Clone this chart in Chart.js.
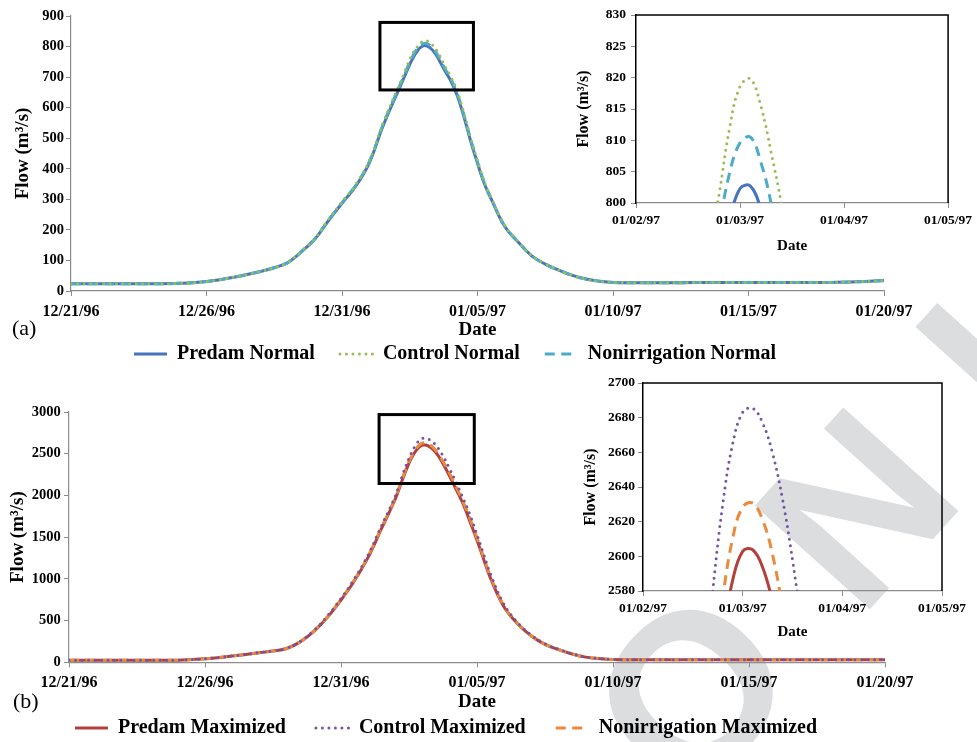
<!DOCTYPE html>
<html>
<head>
<meta charset="utf-8">
<title>Flow hydrographs</title>
<script src="https://cdn.jsdelivr.net/npm/chart.js@4.4.1/dist/chart.umd.min.js"></script>
<style>
  html, body { margin: 0; padding: 0; background: #fff; }
  #page { position: relative; width: 977px; height: 742px; overflow: hidden; font-family: 'Liberation Serif', 'Times New Roman', serif; }
  #page canvas { position: absolute; }
  .panel-tag { position: absolute; font-size: 22px; line-height: 1; color: #000; }
  #stamp {
    position: absolute; left: 602px; top: 580px;
    font: bold 225px/1 'Liberation Sans', Arial, sans-serif;
    letter-spacing: 78px;
    color: #dcdddf; white-space: nowrap;
    transform-origin: 87.5px 110px; transform: rotate(-48deg);
  }
</style>
</head>
<body>
<div id="page">
  <div id="stamp">ONL</div>
  <canvas id="mainA" width="977" height="400" style="left:0;top:0"></canvas>
  <canvas id="insetA" width="417" height="262" style="left:560px;top:0"></canvas>
  <canvas id="mainB" width="977" height="404" style="left:0;top:372px"></canvas>
  <canvas id="insetB" width="417" height="282" style="left:560px;top:370px"></canvas>
  <div class="panel-tag" style="left:12px;top:317px">(a)</div>
  <div class="panel-tag" style="left:13px;top:690px">(b)</div>
</div>
<script>
// days after 12/21/96 00:00
const flowDays = [0, 1, 2, 3, 4, 5, 6, 7,
  7.5, 8, 8.5, 9, 9.5, 10, 10.5, 11, 11.5, 12,
  12.25,
  12.5, 12.6, 12.7, 12.8, 12.9, 13, 13.1, 13.2, 13.3, 13.4, 13.5, 13.6,
  13.8, 14, 14.25, 14.5, 14.75, 15, 15.25, 15.5,
  16, 16.5, 17, 17.5, 18, 18.5, 19, 19.5, 20,
  21, 22, 23, 24, 25, 26, 27, 28, 29, 30];

// (a) normal year, m3/s
const predamNormal = [24, 24, 23.5, 23.5, 25, 31, 45, 64,
  76, 93, 128, 170, 230, 287, 342, 418, 537, 640,
  690,
  742, 759, 775, 788, 797.3, 802.3, 802.7, 799, 792, 782, 769, 753,
  720, 690, 640, 570, 490, 418, 352, 302,
  212, 160, 115, 88, 68, 51, 39, 32, 28,
  27, 27, 27.5, 28, 28, 27.5, 27.5, 28, 30, 34];
const controlNormal = [24, 24, 23.5, 23.5, 25, 31, 45, 64,
  76, 94, 130, 173, 234, 292, 348, 425, 546, 652,
  703,
  758, 776, 792, 801.5, 812, 818.6, 819.8, 815.5, 808, 799.5, 787, 771,
  736, 704, 653, 582, 500, 426, 358, 306,
  215, 162, 116, 89, 68, 51, 39, 32, 28,
  27, 27, 27.5, 28, 28, 27.5, 27.5, 28, 30, 34];
const nonirrNormal = [24, 24, 23.5, 23.5, 25, 31, 45, 64,
  76, 93, 129, 171, 232, 289, 345, 421, 541, 646,
  696,
  749, 767, 783, 796, 804.8, 809.6, 810.5, 806.5, 799.8, 789.5, 776.5, 761,
  727, 697, 646, 576, 495, 422, 355, 304,
  213, 161, 115, 88, 68, 51, 39, 32, 28,
  27, 27, 27.5, 28, 28, 27.5, 27.5, 28, 30, 34];

// (b) maximized, m3/s
const predamMax = [25, 25, 25, 25, 26, 42, 75, 115,
  135, 165, 245, 370, 540, 746, 980, 1260, 1610, 1960,
  2183,
  2387, 2453, 2509.5, 2554.4, 2586.3, 2602.9, 2603.8, 2593.7, 2573.7, 2545, 2508, 2463,
  2352, 2226, 2060, 1890, 1680, 1464, 1230, 1005,
  660, 460, 315, 215, 152, 100, 62, 44, 33,
  30, 30, 30, 30, 30, 30, 30, 30, 30, 31];
const controlMax = [25, 25, 25, 25, 26, 43, 77, 117,
  137, 168, 250, 380, 555, 765, 1005, 1290, 1645, 1995,
  2235,
  2448, 2519, 2580, 2630, 2665, 2683, 2685.5, 2677, 2659.5, 2633, 2598, 2555,
  2445, 2315, 2140, 1960, 1760, 1530, 1290, 1055,
  690, 475, 325, 222, 156, 103, 64, 45, 34,
  31, 31, 31, 31, 31, 31, 31, 31, 31, 32];
const nonirrMax = [25, 25, 25, 25, 26, 42, 76, 116,
  136, 166, 247, 375, 547, 755, 992, 1275, 1625, 1975,
  2200,
  2408, 2474, 2530, 2576, 2610.5, 2628.5, 2630.7, 2621, 2601, 2570, 2533, 2486,
  2380, 2258, 2090, 1915, 1715, 1490, 1255, 1025,
  672, 466, 318, 218, 153, 101, 63, 44, 33,
  30, 30, 30, 30, 30, 30, 30, 30, 30, 31];

const mainDateLabels = ['12/21/96', '12/26/96', '12/31/96', '01/05/97', '01/10/97', '01/15/97', '01/20/97'];
const insetDateLabels = ['01/02/97', '01/03/97', '01/04/97', '01/05/97'];

// highlighted peak window on the main plots: [day from, day to, flow from, flow to]
const zoomBoxA = [11.4, 14.85, 658, 879];
const zoomBoxB = [11.4, 14.9, 2143, 2969];

const serif = "'Liberation Serif', 'Times New Roman', serif";
const axisGrey = '#8c8c8c';

function points(values) {
  return flowDays.map((d, i) => ({ x: d, y: values[i] }));
}

function series(label, values, color, kind) {
  const ds = {
    label, data: points(values),
    borderColor: color, backgroundColor: color,
    borderWidth: 3, pointRadius: 0,
    tension: 0.4, clip: 0,
    borderCapStyle: 'butt', borderDash: [], order: 3
  };
  if (kind === 'dot') {
    ds.borderDash = [0, 6.5];
    ds.borderCapStyle = 'round';
    ds.order = 1;
  } else if (kind === 'dash') {
    ds.borderDash = [10, 6.5];
    ds.order = 2;
  }
  return ds;
}

// legend entries drawn as short line samples with the series dash
function lineLabels(chart) {
  return chart.data.datasets.map((ds, i) => ({
    text: ds.label, datasetIndex: i, hidden: false,
    pointStyle: 'line', fontColor: '#000',
    strokeStyle: ds.borderColor, fillStyle: ds.borderColor,
    lineWidth: ds.borderWidth, lineDash: ds.borderDash, lineCap: ds.borderCapStyle
  }));
}

const extras = {
  id: 'extras',
  afterLayout(chart, args, opts) {
    const lg = chart.legend;
    if (opts.legendX !== undefined && lg) {
      const p = lg.options.labels.padding;
      const w = lg.right - lg.left, h = lg.bottom - lg.top;
      lg.left = opts.legendX - p; lg.right = lg.left + w;
      lg.top = opts.legendY - p; lg.bottom = lg.top + h;
    }
  },
  afterDatasetsDraw(chart, args, opts) {
    const { ctx, chartArea: a, scales: { x, y } } = chart;
    ctx.save();
    ctx.strokeStyle = '#000';
    if (opts.frame) {
      ctx.lineWidth = 1.5;
      ctx.beginPath();
      ctx.moveTo(a.left, a.top);
      ctx.lineTo(a.right, a.top);
      ctx.lineTo(a.right, a.bottom);
      ctx.stroke();
    }
    if (opts.box) {
      const [d0, d1, f0, f1] = opts.box;
      const x0 = x.getPixelForValue(d0), x1 = x.getPixelForValue(d1);
      const y0 = y.getPixelForValue(f1), y1 = y.getPixelForValue(f0);
      ctx.lineWidth = 3;
      ctx.strokeRect(x0, y0, x1 - x0, y1 - y0);
    }
    ctx.restore();
  }
};

function boldFont(size) {
  return { family: serif, weight: 'bold', size };
}

const plainNumber = v => String(v);

function mainChart(id, datasets, c) {
  return new Chart(document.getElementById(id), {
    type: 'line',
    data: { datasets },
    options: {
      responsive: false, animation: false, events: [],
      layout: { padding: c.padding },
      scales: {
        x: {
          type: 'linear', min: 0, max: 30,
          ticks: {
            stepSize: 5, maxRotation: 0, autoSkip: false, padding: c.xTickPad,
            color: '#000', font: boldFont(16),
            callback: (v, i) => mainDateLabels[i]
          },
          grid: { drawOnChartArea: false, tickLength: 5, color: axisGrey },
          border: { color: axisGrey, width: 1.2 },
          title: { display: true, text: 'Date', color: '#000', font: boldFont(19), padding: { top: c.xTitlePad, bottom: 0 } }
        },
        y: {
          min: 0, max: c.yMax,
          afterFit: s => { s.width = c.yWidth; },
          ticks: { stepSize: c.yStep, padding: c.yTickPad, color: '#000', font: boldFont(14.5), callback: plainNumber },
          grid: { drawOnChartArea: false, tickLength: 5, color: axisGrey },
          border: { color: axisGrey, width: 1.2 },
          title: { display: true, text: 'Flow (m³/s)', color: '#000', font: boldFont(19), padding: { top: 4, bottom: 4 } }
        }
      },
      plugins: {
        legend: {
          position: 'bottom', align: 'start',
          labels: {
            usePointStyle: true, pointStyleWidth: 33, padding: c.legendPad,
            color: '#000', font: boldFont(20), generateLabels: lineLabels
          }
        },
        tooltip: { enabled: false },
        extras: { legendX: c.legendX, legendY: c.legendY, box: c.box }
      }
    },
    plugins: [extras]
  });
}

function insetChart(id, datasets, c) {
  return new Chart(document.getElementById(id), {
    type: 'line',
    data: { datasets },
    options: {
      responsive: false, animation: false, events: [],
      layout: { padding: c.padding },
      scales: {
        x: {
          type: 'linear', min: 12, max: 15,
          ticks: {
            stepSize: 1, maxRotation: 0, autoSkip: false, padding: c.xTickPad,
            color: '#000', font: boldFont(13.5),
            callback: (v, i) => insetDateLabels[i]
          },
          grid: { drawOnChartArea: false, tickLength: 5, color: axisGrey },
          border: { color: axisGrey, width: 1.2 },
          title: { display: true, text: 'Date', color: '#000', font: boldFont(15), padding: { top: c.xTitlePad, bottom: 0 } }
        },
        y: {
          min: c.yMin, max: c.yMax,
          afterFit: s => { s.width = c.yWidth; },
          ticks: { stepSize: c.yStep, padding: c.yTickPad, color: '#000', font: boldFont(13.5), callback: plainNumber },
          grid: { drawOnChartArea: false, tickLength: 5, color: axisGrey },
          border: { color: '#000', width: 1.5 },
          title: { display: true, text: 'Flow (m³/s)', color: '#000', font: boldFont(16), padding: { top: 4, bottom: 4 } }
        }
      },
      plugins: {
        legend: { display: false },
        tooltip: { enabled: false },
        extras: { frame: true }
      }
    },
    plugins: [extras]
  });
}

const normalColors = ['#4674bf', '#9bbb59', '#4bacc6'];
const maxColors = ['#b3403d', '#7356a1', '#eb8a3c'];

function normalSeries() {
  return [
    series('Predam Normal', predamNormal, normalColors[0], 'solid'),
    series('Control Normal', controlNormal, normalColors[1], 'dot'),
    series('Nonirrigation Normal', nonirrNormal, normalColors[2], 'dash')
  ];
}
function maxSeries() {
  return [
    series('Predam Maximized', predamMax, maxColors[0], 'solid'),
    series('Control Maximized', controlMax, maxColors[1], 'dot'),
    series('Nonirrigation Maximized', nonirrMax, maxColors[2], 'dash')
  ];
}

mainChart('mainA', normalSeries(), {
  padding: { left: 8, top: 16, right: 93, bottom: 3.2 },
  yMax: 900, yStep: 100, yWidth: 63, yTickPad: 2,
  xTickPad: 5.9, xTitlePad: -8,
  legendPad: 25, legendX: 134, legendY: 344,
  box: zoomBoxA
});

mainChart('mainB', maxSeries(), {
  padding: { left: 3, top: 40, right: 92, bottom: 2.9 },
  yMax: 3000, yStep: 500, yWidth: 66, yTickPad: 3.3,
  xTickPad: 5.6, xTitlePad: -7.4,
  legendPad: 30, legendX: 75, legendY: 346,
  box: zoomBoxB
});

insetChart('insetA', normalSeries(), {
  padding: { left: 10, top: 15, right: 27, bottom: 7 },
  yMin: 800, yMax: 830, yStep: 5, yWidth: 66, yTickPad: 5,
  xTickPad: 4.9, xTitlePad: 3
});

insetChart('insetB', maxSeries(), {
  padding: { left: 17, top: 13, right: 35, bottom: 11.3 },
  yMin: 2580, yMax: 2700, yStep: 20, yWidth: 66, yTickPad: 3,
  xTickPad: 4.2, xTitlePad: 2.1
});
</script>
</body>
</html>
